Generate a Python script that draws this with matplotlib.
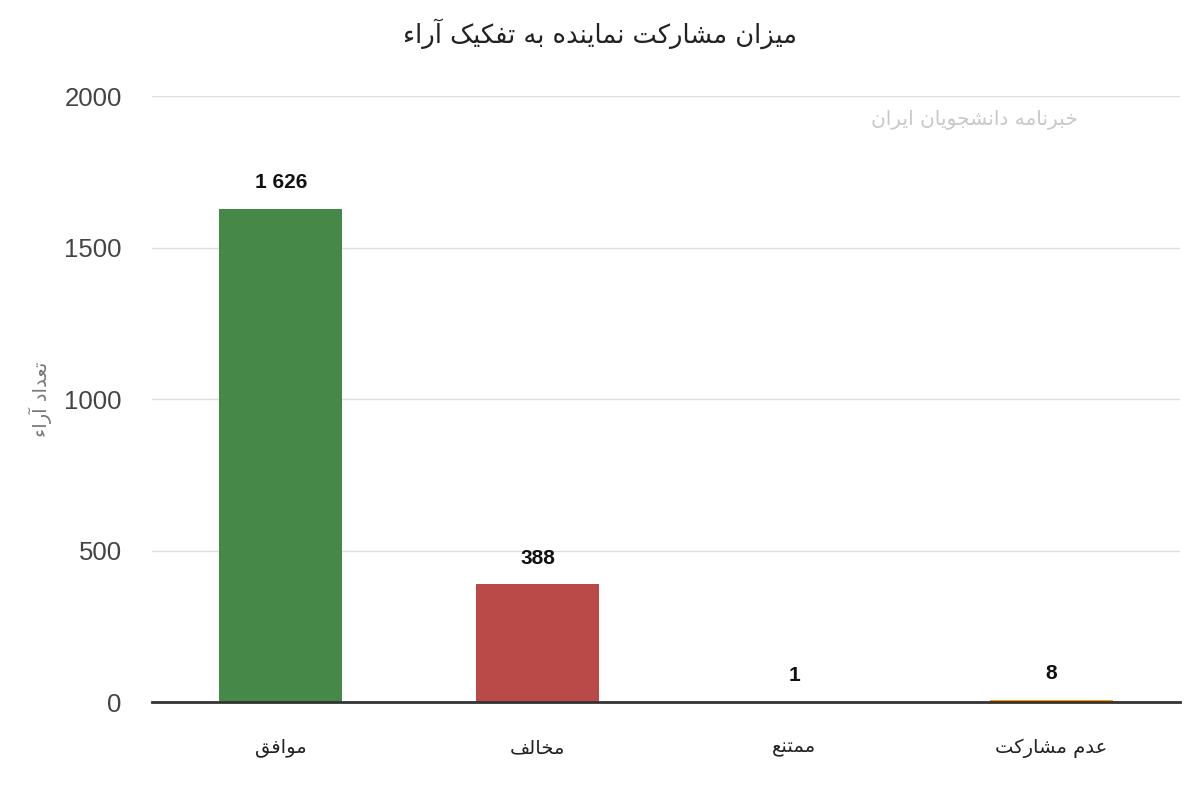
import matplotlib
matplotlib.use("Agg")
import matplotlib.pyplot as plt

# ==== DATA ====
title = "میزان مشارکت نماینده به تفکیک آراء"
y_label = "تعداد آراء"
categories = ["موافق", "مخالف", "ممتنع", "عدم مشارکت"]
votes = [1626, 388, 1, 8]
vote_labels = ["1 626", "388", "1", "8"]
bar_colors = ["#468847", "#B94A48", "#3366CC", "#FF9900"]
y_ticks = [0, 500, 1000, 1500, 2000]
watermark = "خبرنامه دانشجویان ایران"

# ==== minimal Persian shaping (matplotlib has no shaping / bidi) ====
# letter: (isolated, final, initial, medial)  - None means no such form
FORMS = {
    "ء": (0xFE80, None, None, None),
    "آ": (0xFE81, 0xFE82, None, None),
    "ا": (0xFE8D, 0xFE8E, None, None),
    "ب": (0xFE8F, 0xFE90, 0xFE91, 0xFE92),
    "ت": (0xFE95, 0xFE96, 0xFE97, 0xFE98),
    "ج": (0xFE9D, 0xFE9E, 0xFE9F, 0xFEA0),
    "خ": (0xFEA5, 0xFEA6, 0xFEA7, 0xFEA8),
    "د": (0xFEA9, 0xFEAA, None, None),
    "ر": (0xFEAD, 0xFEAE, None, None),
    "ز": (0xFEAF, 0xFEB0, None, None),
    "ش": (0xFEB5, 0xFEB6, 0xFEB7, 0xFEB8),
    "ع": (0xFEC9, 0xFECA, 0xFECB, 0xFECC),
    "ف": (0xFED1, 0xFED2, 0xFED3, 0xFED4),
    "ق": (0xFED5, 0xFED6, 0xFED7, 0xFED8),
    "ل": (0xFEDD, 0xFEDE, 0xFEDF, 0xFEE0),
    "م": (0xFEE1, 0xFEE2, 0xFEE3, 0xFEE4),
    "ن": (0xFEE5, 0xFEE6, 0xFEE7, 0xFEE8),
    "ه": (0xFEE9, 0xFEEA, 0xFEEB, 0xFEEC),
    "و": (0xFEED, 0xFEEE, None, None),
    "ی": (0xFBFC, 0xFBFD, 0xFBFE, 0xFBFF),
    "ک": (0xFB8E, 0xFB8F, 0xFB90, 0xFB91),
}


def joins_left(ch):
    return ch in FORMS and FORMS[ch][2] is not None


def joins_right(ch):
    return ch in FORMS and FORMS[ch][1] is not None


def fa(text):
    out = []
    for i, ch in enumerate(text):
        if ch not in FORMS:
            out.append(ch)
            continue
        prev = text[i - 1] if i > 0 else ""
        nxt = text[i + 1] if i + 1 < len(text) else ""
        p = joins_left(prev) and joins_right(ch)
        n = joins_left(ch) and joins_right(nxt)
        iso, fin, ini, med = FORMS[ch]
        if p and n:
            code = med
        elif p:
            code = fin
        elif n:
            code = ini
        else:
            code = iso
        out.append(chr(code))
    return "".join(reversed(out))


plt.rcParams["font.family"] = ["Liberation Sans", "DejaVu Sans"]
FA_FONT = ["DejaVu Sans"]

fig = plt.figure(figsize=(12, 8), dpi=100)
ax = fig.add_axes([0.127, 0.1225, 0.856, 0.7575])

x = range(len(categories))
ax.bar(x, votes, width=0.48, color=bar_colors, zorder=3)

for xi, v, lab in zip(x, votes, vote_labels):
    ax.annotate(lab, (xi, v), xytext=(0, 19), textcoords="offset points",
                ha="center", va="center", fontsize=15, fontweight="bold",
                color="#111111")

ax.set_xlim(-0.5, len(categories) - 0.5)
ax.set_ylim(0, 2000)
ax.set_yticks(y_ticks)
ax.set_yticklabels([str(t) for t in y_ticks], fontsize=18.5, color="#444444")
ax.set_xticks(list(x))
ax.set_xticklabels([fa(c) for c in categories], fontsize=14, color="#222222",
                   family=FA_FONT)
ax.tick_params(axis="y", length=0, pad=22)
ax.tick_params(axis="x", length=0, pad=26)

ax.grid(axis="y", color="#dddddd", linewidth=1, zorder=0)
for side in ["top", "right", "left"]:
    ax.spines[side].set_visible(False)
ax.spines["bottom"].set_color("#333333")
ax.spines["bottom"].set_linewidth(2)
ax.spines["bottom"].set_zorder(4)

ax.set_ylabel(fa(y_label), fontsize=14, color="#777777", labelpad=9,
              family=FA_FONT)
fig.text(0.5, 0.958, fa(title), ha="center", va="center", fontsize=18.5,
         color="#222222", family=FA_FONT)

# faint watermark of the news source
ax.text(0.80, 0.962, fa(watermark), transform=ax.transAxes, ha="center",
        va="center", fontsize=14.5, color="#c8c8c8", family=FA_FONT, zorder=5)

fig.savefig("out.png", dpi=100)
